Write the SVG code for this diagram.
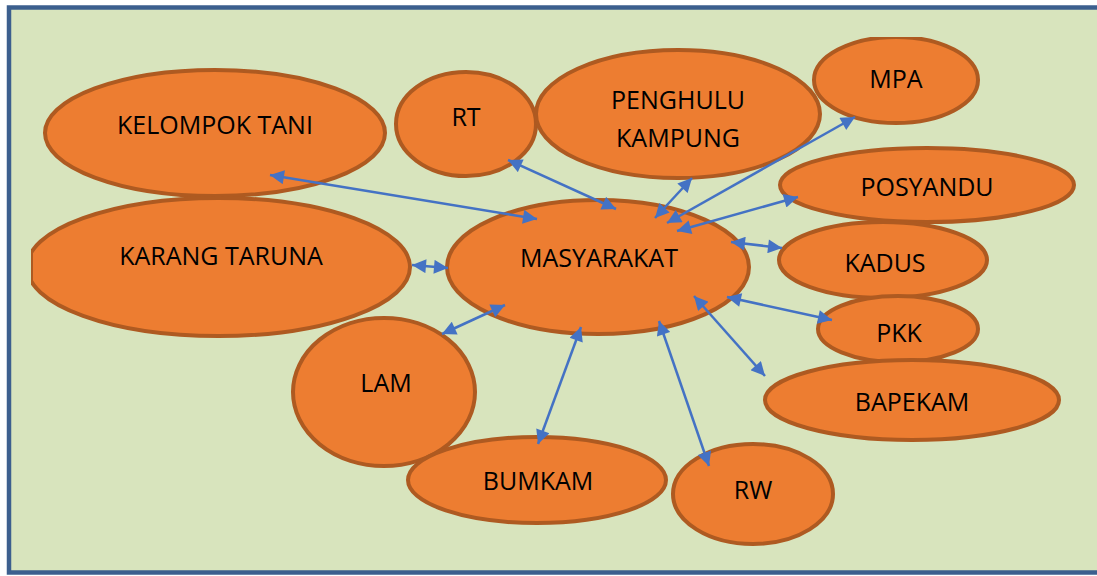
<svg xmlns="http://www.w3.org/2000/svg" width="1097" height="576" viewBox="0 0 1097 576">
<style>
.node ellipse{fill:#ED7D31;stroke:#AE5A21;stroke-width:4}
.node text{font-family:"Open Sans","Liberation Sans",sans-serif;font-size:25px;fill:#000;text-anchor:middle}
#connectors line{stroke:#4472C4;stroke-width:2.5;marker-start:url(#ah);marker-end:url(#ah)}
</style>
<defs>
<marker id="ah" viewBox="0 0 10 10" refX="10" refY="5" markerWidth="16" markerHeight="14" markerUnits="userSpaceOnUse" orient="auto-start-reverse">
<path d="M0,0 L10,5 L0,10 z" fill="#4472C4"/>
</marker>
<clipPath id="clipKT"><rect x="31" y="0" width="1100" height="576"/></clipPath>
<clipPath id="clipMPA"><rect x="0" y="37" width="1097" height="576"/></clipPath>
</defs>
<rect x="9" y="7.5" width="1100" height="565" fill="#D8E4BD" stroke="#3C5F8E" stroke-width="4.5"/>
<g id="n-kelompok" class="node"><ellipse cx="215" cy="133" rx="170" ry="63"/><text x="215" y="134">KELOMPOK TANI</text></g>
<g id="n-karang" class="node" clip-path="url(#clipKT)"><ellipse cx="218.5" cy="267" rx="191.5" ry="69"/><line x1="32" y1="253" x2="32" y2="281" stroke="#AE5A21" stroke-width="2"/><text x="221" y="265">KARANG TARUNA</text></g>
<g id="n-rt" class="node"><ellipse cx="466" cy="124" rx="70" ry="52"/><text x="466" y="126">RT</text></g>
<g id="n-penghulu" class="node"><ellipse cx="678" cy="114" rx="142" ry="64"/><text x="678" y="109">PENGHULU</text><text x="678" y="147">KAMPUNG</text></g>
<g id="n-mpa" class="node" clip-path="url(#clipMPA)"><ellipse cx="896" cy="80" rx="82" ry="43"/><text x="896" y="88">MPA</text></g>
<g id="n-posyandu" class="node"><ellipse cx="927" cy="185" rx="147" ry="37"/><text x="927" y="196">POSYANDU</text></g>
<g id="n-kadus" class="node"><ellipse cx="883" cy="260" rx="104" ry="38"/><text x="885" y="272">KADUS</text></g>
<g id="n-pkk" class="node"><ellipse cx="898" cy="329" rx="80" ry="33"/><text x="899" y="342">PKK</text></g>
<g id="n-bapekam" class="node"><ellipse cx="912" cy="400" rx="147" ry="40"/><text x="912" y="411">BAPEKAM</text></g>
<g id="n-masyarakat" class="node"><ellipse cx="598" cy="267" rx="151" ry="67"/><text x="599" y="267">MASYARAKAT</text></g>
<g id="n-lam" class="node"><ellipse cx="384" cy="392" rx="91" ry="74"/><text x="386" y="392">LAM</text></g>
<g id="n-bumkam" class="node"><ellipse cx="537" cy="480" rx="129" ry="43"/><text x="538" y="490">BUMKAM</text></g>
<g id="n-rw" class="node"><ellipse cx="753" cy="494" rx="80" ry="50"/><text x="753" y="499">RW</text></g>
<g id="connectors">
<line x1="270" y1="175" x2="537" y2="219"/>
<line x1="508" y1="160" x2="616" y2="209"/>
<line x1="692" y1="178" x2="655" y2="218"/>
<line x1="855" y1="117" x2="667" y2="223"/>
<line x1="798" y1="197" x2="677" y2="231"/>
<line x1="731" y1="242" x2="782" y2="248"/>
<line x1="727" y1="297" x2="832" y2="320"/>
<line x1="694" y1="296" x2="765" y2="376"/>
<line x1="659" y1="321" x2="709" y2="466"/>
<line x1="581" y1="327" x2="538" y2="444"/>
<line x1="442" y1="334" x2="505" y2="305"/>
<line x1="412" y1="265" x2="448" y2="268"/>
</g>
</svg>
